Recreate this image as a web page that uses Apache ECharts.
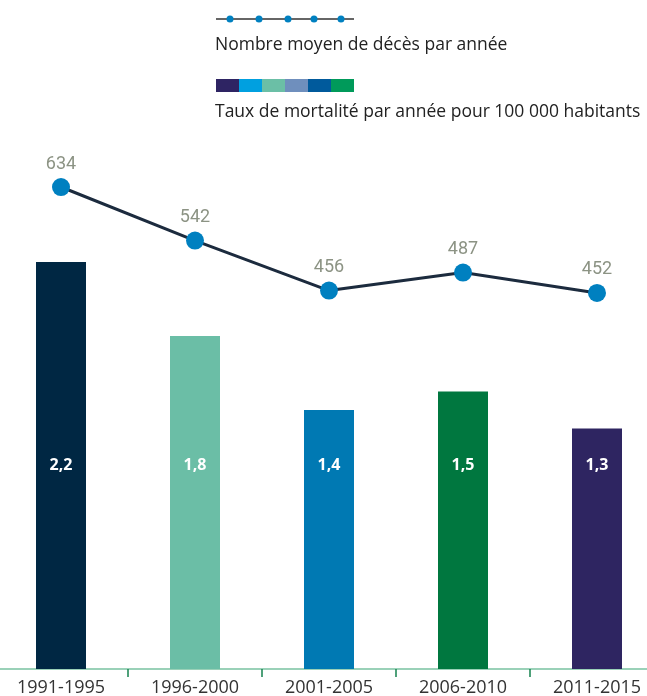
<!DOCTYPE html>
<html>
<head>
<meta charset="utf-8">
<script src="https://cdn.jsdelivr.net/npm/echarts@6/dist/echarts.min.js"></script>
<style>html,body{margin:0;padding:0;background:#fff}#c{width:647px;height:696px}</style>
</head>
<body>
<div id="c"></div>
<script>
var categories = ['1991-1995', '1996-2000', '2001-2005', '2006-2010', '2011-2015'];
var rateValues = [2.2, 1.8, 1.4, 1.5, 1.3];
var rateLabels = ['2,2', '1,8', '1,4', '1,5', '1,3'];
var deathValues = [634, 542, 456, 487, 452];
var barColors = ['#002743', '#6bbea6', '#0079b3', '#00773f', '#2e2561'];
var legendSwatchColors = ['#2e2463', '#00a0e0', '#6bbfa6', '#6f8fbd', '#005a9c', '#009a5a'];
var legendLine = 'Nombre moyen de décès par année';
var legendBar = 'Taux de mortalité par année pour 100 000 habitants';

var chart = echarts.init(document.getElementById('c'));
var font = '"Open Sans", sans-serif';

var graphics = [];
graphics.push({type: 'line', shape: {x1: 216, y1: 19, x2: 354, y2: 19}, style: {stroke: '#333', lineWidth: 1.5}});
[230, 259, 288, 314, 341].forEach(function (x) {
  graphics.push({type: 'circle', shape: {cx: x, cy: 19, r: 3.5}, style: {fill: '#0080c0'}});
});
graphics.push({type: 'text', left: 215, top: 36, style: {text: legendLine, font: '17.5px ' + font, fill: '#222'}});
legendSwatchColors.forEach(function (c, i) {
  graphics.push({type: 'rect', shape: {x: 216 + i * 23, y: 79, width: 23, height: 13}, style: {fill: c}});
});
graphics.push({type: 'text', left: 215, top: 103, style: {text: legendBar, font: '17.5px ' + font, fill: '#222'}});

chart.setOption({
  animation: false,
  graphic: graphics,
  grid: [
    {left: -6, right: -17, top: 206.5, bottom: 27, containLabel: false, outerBoundsMode: 'none'},
    {left: -6, right: -17, top: 148.6, height: 174.6, containLabel: false, outerBoundsMode: 'none'}
  ],
  xAxis: [
    {
      type: 'category', gridIndex: 0, data: categories,
      axisLine: {lineStyle: {color: '#79c2a0', width: 1.5}},
      axisTick: {show: true, alignWithLabel: false, interval: 0, length: 8, lineStyle: {color: '#16834f', width: 1.5}},
      axisLabel: {fontSize: 18, color: '#333', margin: 10, fontFamily: font, hideOverlap: false}
    },
    {type: 'category', gridIndex: 1, data: categories, show: false}
  ],
  yAxis: [
    {type: 'value', gridIndex: 0, min: 0, max: 2.5, show: false, splitLine: {show: false}},
    {type: 'value', gridIndex: 1, min: 400, max: 700, show: false, splitLine: {show: false}}
  ],
  series: [
    {
      type: 'bar', xAxisIndex: 0, yAxisIndex: 0, barWidth: 50,
      data: rateValues.map(function (v, i) {
        return {value: v, itemStyle: {color: barColors[i]}};
      }),
      label: {
        show: true, position: 'insideBottom', distance: 196,
        color: '#fff', fontWeight: 'bold', fontSize: 16, fontFamily: font,
        formatter: function (p) { return rateLabels[p.dataIndex]; }
      }
    },
    {
      type: 'line', xAxisIndex: 1, yAxisIndex: 1, data: deathValues,
      symbol: 'circle', symbolSize: 18,
      itemStyle: {color: '#0080c0'},
      lineStyle: {color: '#1c2b3e', width: 3},
      label: {show: true, position: 'top', distance: 5, color: '#8c9384', fontSize: 18, fontFamily: 'Roboto, sans-serif'}
    }
  ]
});
</script>
</body>
</html>
